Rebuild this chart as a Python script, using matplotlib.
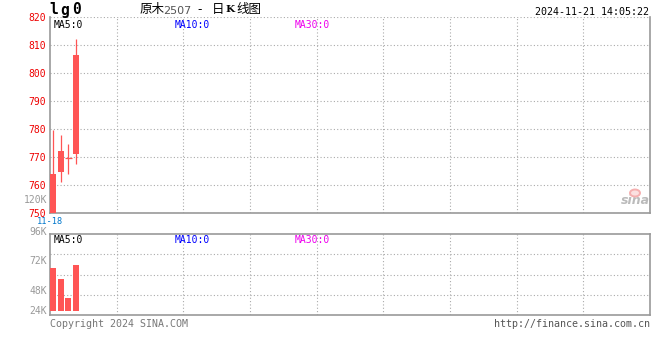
import matplotlib
matplotlib.use("Agg")
import matplotlib.pyplot as plt
from matplotlib.patches import Ellipse

plt.rcParams['font.family'] = ['DejaVu Sans Mono', 'Noto Sans CJK SC']

# daily K data
dates = ['11-18', '11-19', '11-20', '11-21']
opens = [750, 764.5, 769.5, 771]
closes = [764, 772, 769.5, 806.5]
highs = [779.5, 778, 774.5, 812]
lows = [750, 761, 764, 767.5]
volumes = [62400, 52800, 35700, 65400]

price_ticks = [750, 760, 770, 780, 790, 800, 810, 820]
vol_labels = ['96K', '72K', '48K', '24K']

UP = '#ff5555'
GRID = '#aaaaaa'
BORDER = '#999999'
CJK = ['Noto Sans CJK SC', 'DejaVu Sans']

fig = plt.figure(figsize=(6.6, 3.6), dpi=100)
ax = fig.add_axes([50 / 660, 1 - 213 / 360, 600 / 660, 196 / 360])
axv = fig.add_axes([50 / 660, 1 - 315 / 360, 600 / 660, 81 / 360])

xlo, xhi = -0.39, -0.39 + 600 / 7.73
x = list(range(len(dates)))
vgrid = [xlo + k * (xhi - xlo) / 9 for k in range(1, 9)]

# candles
ax.vlines(x, lows, highs, color=UP, lw=0.9, zorder=3)
for i in x:
    if closes[i] == opens[i]:
        ax.hlines(opens[i], i - 0.4, i + 0.4, color=UP, lw=0.9, zorder=3)
    else:
        ax.bar(i, closes[i] - opens[i], bottom=opens[i], width=0.78,
               color=UP, zorder=4, linewidth=0)

ax.set_xlim(xlo, xhi)
ax.set_ylim(750, 820)
ax.set_yticks(price_ticks)
ax.set_yticklabels([str(v) for v in price_ticks], color='#ee0000', fontsize=7)
ax.set_xticks(vgrid)
ax.set_xticklabels([])
ax.tick_params(length=0, pad=3)
ax.grid(True, color=GRID, ls=(0, (1, 2)), lw=0.8)
ax.spines['top'].set_visible(False)
for s in ['left', 'right', 'bottom']:
    ax.spines[s].set_color(BORDER)
    ax.spines[s].set_linewidth(1.2)

# volume
axv.bar(x, [v - 24000 for v in volumes], bottom=24000, width=0.78,
        color=UP, linewidth=0, zorder=3)
axv.set_xlim(xlo, xhi)
axv.set_ylim(20400, 93300)
axv.set_xticks(vgrid)
axv.set_yticks([20400 + k * (93300 - 20400) / 4 for k in range(1, 4)])
axv.set_xticklabels([])
axv.set_yticklabels([])
axv.tick_params(length=0)
axv.grid(True, color=GRID, ls=(0, (1, 2)), lw=0.8)
for s in axv.spines.values():
    s.set_color(BORDER)
    s.set_linewidth(1.2)

# MA labels
for a in (ax, axv):
    a.text(4 / 600, 0.985, 'MA5:0', transform=a.transAxes,
           fontsize=7, color='black', va='top')
    a.text(125 / 600, 0.985, 'MA10:0', transform=a.transAxes,
           fontsize=7, color='#0000ff', va='top')
    a.text(245 / 600, 0.985, 'MA30:0', transform=a.transAxes,
           fontsize=7, color='#ee00ee', va='top')

# side labels
fig.text(47 / 660, 1 - 200 / 360, '120K', color=BORDER, fontsize=7,
         ha='right', va='center')
for lab, yy in zip(vol_labels, [232, 261, 291, 311]):
    fig.text(47 / 660, 1 - yy / 360, lab, color=BORDER, fontsize=7,
             ha='right', va='center')
fig.text(50 / 660, 1 - 222 / 360, dates[0], color='#0077cc', fontsize=6.2,
         ha='center', va='center')

# header
for ch, xx in zip(['l', 'g', '0'], [49, 60, 72]):
    fig.text(xx / 660, 1 - 10 / 360, ch, fontsize=10.5, fontweight='bold',
             va='center')
fig.text(140 / 660, 1 - 10 / 360, '原木', fontsize=9, family=CJK,
         va='center')
fig.text(163 / 660, 1 - 10.5 / 360, '2507', fontsize=8, family='DejaVu Sans',
         color='#555555', va='center')
fig.text(200 / 660, 1 - 10 / 360, '-', fontsize=9, family=CJK,
         ha='center', va='center')
fig.text(212 / 660, 1 - 10 / 360, '日', fontsize=9, family=CJK, va='center')
fig.text(225 / 660, 1 - 10 / 360, 'K', fontsize=7.5, family='DejaVu Serif',
         fontweight='bold', va='center')
fig.text(236 / 660, 1 - 10 / 360, '线图', fontsize=9, family=CJK,
         va='center')
fig.text(649 / 660, 1 - 12 / 360, '2024-11-21 14:05:22', fontsize=7.2,
         ha='right', va='center')

# footer
fig.text(50 / 660, 1 - 324 / 360, 'Copyright 2024 SINA.COM', fontsize=7.2,
         color='#777777', va='center')
fig.text(650 / 660, 1 - 324 / 360, 'http://finance.sina.com.cn', fontsize=7.2,
         color='#555555', ha='right', va='center')

# watermark
ax.text(1.0, (213 - 201) / 196, 'sina', transform=ax.transAxes, fontsize=9,
        fontweight='bold', style='italic', color='#bbbbbb', ha='right',
        va='center', family='DejaVu Sans', zorder=2)
ax.add_patch(Ellipse(((635 - 50) / 600, (213 - 193) / 196), 10 / 600, 7 / 196,
                     transform=ax.transAxes, facecolor='#fbe0e0',
                     edgecolor='#f5b0b0', lw=1.4, zorder=2))

fig.savefig('out.png', dpi=100, facecolor='white')
